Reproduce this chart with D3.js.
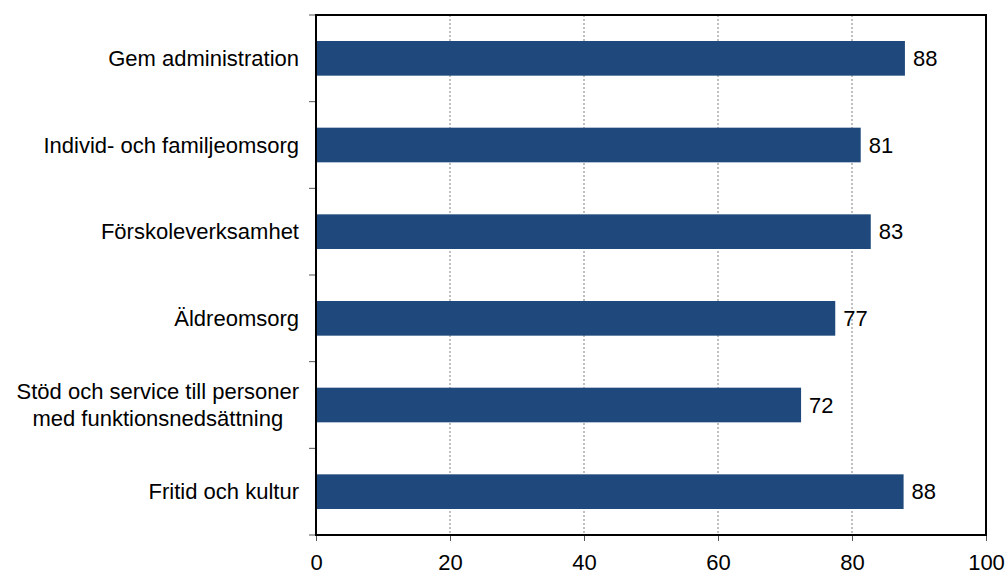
<!DOCTYPE html>
<html>
<head>
<meta charset="utf-8">
<script src="https://cdn.jsdelivr.net/npm/d3@7"></script>
<style>
  body { margin: 0; background: #fff; }
  svg { font-family: "Liberation Sans", Arial, sans-serif; }
</style>
</head>
<body>
<svg width="1008" height="576"></svg>
<script>
// chart data
var categories = ['Gem administration', 'Individ- och familjeomsorg', 'Förskoleverksamhet', 'Äldreomsorg', 'Stöd och service till personer\nmed funktionsnedsättning', 'Fritid och kultur'];
var values = [87.9, 81.3, 82.8, 77.5, 72.4, 87.7];
var valueLabels = ['88', '81', '83', '77', '72', '88'];
var xTicks = [0, 20, 40, 60, 80, 100];

var svg = d3.select('svg');
var plotLeft = 316, plotRight = 986, plotTop = 15, plotBottom = 535;
var fontSize = 22;

var x = d3.scaleLinear().domain([0, 100]).range([plotLeft, plotRight]);
var y = d3.scaleBand().domain(d3.range(categories.length)).range([plotTop, plotBottom]).paddingInner(0.6).paddingOuter(0.3);

// grid
svg.append('g').selectAll('line').data(xTicks.slice(1, -1)).enter().append('line')
  .attr('x1', function(d) { return x(d); }).attr('x2', function(d) { return x(d); })
  .attr('y1', plotTop).attr('y2', plotBottom)
  .attr('stroke', '#808080').attr('stroke-width', 1).attr('stroke-dasharray', '2,2');

// bars
svg.append('g').selectAll('rect').data(values).enter().append('rect')
  .attr('x', x(0))
  .attr('y', function(d, i) { return y(i); })
  .attr('width', function(d) { return x(d) - x(0); })
  .attr('height', y.bandwidth())
  .attr('fill', '#1f497d');

// value labels
svg.append('g').selectAll('text').data(values).enter().append('text')
  .attr('x', function(d) { return x(d) + 8; })
  .attr('y', function(d, i) { return y(i) + y.bandwidth() / 2; })
  .attr('dy', '0.35em')
  .attr('font-size', fontSize)
  .attr('fill', '#000')
  .text(function(d, i) { return valueLabels[i]; });

// x axis
var xAxis = svg.append('g').attr('transform', 'translate(0,' + plotBottom + ')')
  .call(d3.axisBottom(x).tickValues(xTicks).tickSize(6).tickPadding(13));
xAxis.select('.domain').remove();
xAxis.selectAll('.tick line').attr('stroke', '#555');
xAxis.selectAll('.tick text').attr('font-size', fontSize).attr('font-family', 'Liberation Sans, Arial, sans-serif').attr('fill', '#000');

// y ticks at band boundaries
var boundaries = d3.range(categories.length + 1).map(function(i) { return plotTop + i * y.step(); });
svg.append('g').selectAll('line').data(boundaries).enter().append('line')
  .attr('x1', plotLeft - 7).attr('x2', plotLeft)
  .attr('y1', function(d) { return d; }).attr('y2', function(d) { return d; })
  .attr('stroke', '#555').attr('stroke-width', 1);

// frame
svg.append('rect').attr('x', plotLeft).attr('y', plotTop).attr('width', plotRight - plotLeft).attr('height', plotBottom - plotTop)
  .attr('fill', 'none').attr('stroke', '#000').attr('stroke-width', 2);

// category labels
var labelRight = plotLeft - 17;
categories.forEach(function(c, i) {
  var lines = c.split('\n');
  var cy = y(i) + y.bandwidth() / 2;
  var g = svg.append('g');
  var texts = lines.map(function(l, j) {
    return g.append('text')
      .attr('y', cy + (j - (lines.length - 1) / 2) * 27)
      .attr('dy', '0.35em')
      .attr('font-size', fontSize)
      .attr('fill', '#000')
      .text(l);
  });
  if (lines.length === 1) {
    texts[0].attr('x', labelRight).attr('text-anchor', 'end');
  } else {
    var w = d3.max(texts, function(t) { return t.node().getComputedTextLength(); });
    texts.forEach(function(t) { t.attr('x', labelRight - w / 2).attr('text-anchor', 'middle'); });
  }
});
</script>
</body>
</html>
